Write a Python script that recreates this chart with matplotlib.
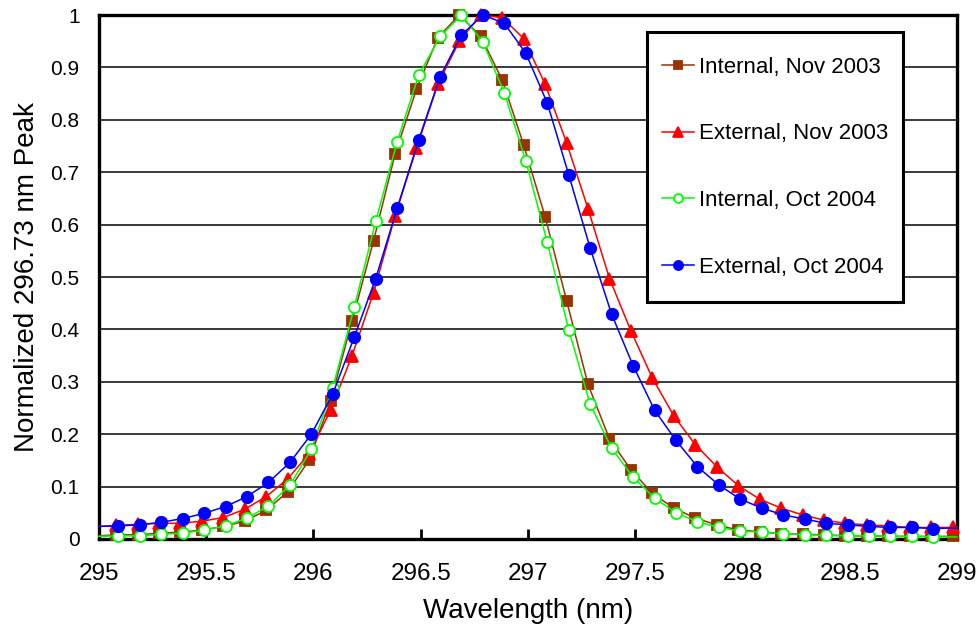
import matplotlib
matplotlib.use("Agg")
import matplotlib.pyplot as plt
from matplotlib.patches import Rectangle
from matplotlib.ticker import MultipleLocator, FormatStrFormatter

plt.rcParams['font.family'] = ['Liberation Sans', 'DejaVu Sans']

# wavelength grids (nm)
wl_2003 = [295.08, 295.18, 295.28, 295.38, 295.48, 295.58, 295.68, 295.78, 295.88, 295.98,
           296.08, 296.18, 296.28, 296.38, 296.48, 296.58, 296.68, 296.78, 296.88, 296.98,
           297.08, 297.18, 297.28, 297.38, 297.48, 297.58, 297.68, 297.78, 297.88, 297.98,
           298.08, 298.18, 298.28, 298.38, 298.48, 298.58, 298.68, 298.78, 298.88, 298.98]
wl_2004 = [295.09, 295.19, 295.29, 295.39, 295.49, 295.59, 295.69, 295.79, 295.89, 295.99,
           296.09, 296.19, 296.29, 296.39, 296.49, 296.59, 296.69, 296.79, 296.89, 296.99,
           297.09, 297.19, 297.29, 297.39, 297.49, 297.59, 297.69, 297.79, 297.89, 297.99,
           298.09, 298.19, 298.29, 298.39, 298.49, 298.59, 298.69, 298.79, 298.89]

# normalized line profiles
int_nov03 = [0.008, 0.008, 0.011, 0.013, 0.017, 0.024, 0.034, 0.055, 0.090, 0.151,
             0.264, 0.416, 0.569, 0.734, 0.858, 0.957, 1.000, 0.959, 0.876, 0.752,
             0.615, 0.455, 0.295, 0.191, 0.132, 0.087, 0.059, 0.040, 0.027, 0.017,
             0.014, 0.010, 0.009, 0.008, 0.006, 0.006, 0.005, 0.005, 0.005, 0.005]
ext_nov03 = [0.026, 0.028, 0.030, 0.030, 0.034, 0.041, 0.057, 0.081, 0.115, 0.163,
             0.246, 0.350, 0.470, 0.616, 0.746, 0.868, 0.950, 1.000, 0.995, 0.955,
             0.868, 0.756, 0.630, 0.497, 0.397, 0.307, 0.235, 0.180, 0.138, 0.102,
             0.076, 0.059, 0.046, 0.036, 0.030, 0.027, 0.025, 0.022, 0.022, 0.022]
int_oct04 = [0.006, 0.006, 0.009, 0.011, 0.017, 0.025, 0.040, 0.063, 0.103, 0.171,
             0.289, 0.442, 0.606, 0.758, 0.885, 0.959, 1.000, 0.948, 0.851, 0.721,
             0.566, 0.399, 0.257, 0.173, 0.118, 0.078, 0.050, 0.033, 0.022, 0.015,
             0.013, 0.010, 0.008, 0.007, 0.006, 0.006, 0.005, 0.005, 0.004]
ext_oct04 = [0.025, 0.027, 0.032, 0.039, 0.049, 0.062, 0.081, 0.108, 0.146, 0.200,
             0.277, 0.385, 0.497, 0.631, 0.761, 0.882, 0.962, 1.000, 0.984, 0.927,
             0.832, 0.695, 0.555, 0.429, 0.331, 0.246, 0.188, 0.138, 0.103, 0.076,
             0.059, 0.046, 0.038, 0.030, 0.027, 0.024, 0.022, 0.022, 0.020]

# curve values where the lines meet the plot edges (295 / 299 nm)
edge_left = [0.006, 0.024, 0.005, 0.024]
edge_right = [0.005, 0.022, 0.004, 0.021]

labels = ["Internal, Nov 2003", "External, Nov 2003", "Internal, Oct 2004", "External, Oct 2004"]
colors = ["#993300", "#FF0000", "#00FF00", "#0000FF"]

fig = plt.figure(figsize=(9.8, 6.33), dpi=100)
ax = fig.add_axes([0.101, 0.1485, 0.8755, 0.8278])

series = [(wl_2003, int_nov03, 's', colors[0], 7.4),
          (wl_2003, ext_nov03, '^', colors[1], 8.5),
          (wl_2004, int_oct04, 'o', colors[2], 8.0),
          (wl_2004, ext_oct04, 'o', colors[3], 8.2)]

for i, (wl, val, mk, c, ms) in enumerate(series):
    xs = [295.0] + wl + [299.0]
    ys = [edge_left[i]] + val + [edge_right[i]]
    face = 'white' if i == 2 else c
    ax.plot(xs, ys, color=c, lw=1.1, marker=mk, ms=ms, mfc=face, mec=c, mew=1.3,
            markevery=list(range(1, len(xs) - 1)), label=labels[i],
            clip_on=False, zorder=3 + i)

ax.set_xlim(295, 299)
ax.set_ylim(0, 1)
ax.xaxis.set_major_locator(MultipleLocator(0.5))
ax.yaxis.set_major_locator(MultipleLocator(0.1))
ax.xaxis.set_major_formatter(FormatStrFormatter('%g'))
ax.yaxis.set_major_formatter(FormatStrFormatter('%g'))
ax.grid(axis='y', color='#3a3a3a', lw=1.4, zorder=1)
ax.set_axisbelow(True)

for s in ax.spines.values():
    s.set_linewidth(2.4)
    s.set_color('black')

ax.tick_params(axis='x', direction='in', length=7, width=2, labelsize=17.5, pad=17)
ax.tick_params(axis='y', direction='in', length=0, labelsize=15, pad=14)

ax.set_xlabel("Wavelength (nm)", fontsize=20)
ax.set_ylabel("Normalized 296.73 nm Peak", fontsize=20)
ax.xaxis.set_label_coords(0.5, -0.112)
ax.yaxis.set_label_coords(-0.069, 0.5)

# legend: white box with black border, entries placed inside without a frame
box = Rectangle((0.639, 0.452), 0.298, 0.516, transform=ax.transAxes,
                facecolor='white', edgecolor='black', lw=2.2, zorder=9)
ax.add_patch(box)
leg = ax.legend(loc='upper left', bbox_to_anchor=(0.656, 0.920), borderaxespad=0,
                fontsize=16, frameon=False, handlelength=1.45, handletextpad=0.23,
                labelspacing=2.05, borderpad=0, markerscale=0.8)
leg.set_zorder(10)

fig.savefig("out.png", dpi=100)
